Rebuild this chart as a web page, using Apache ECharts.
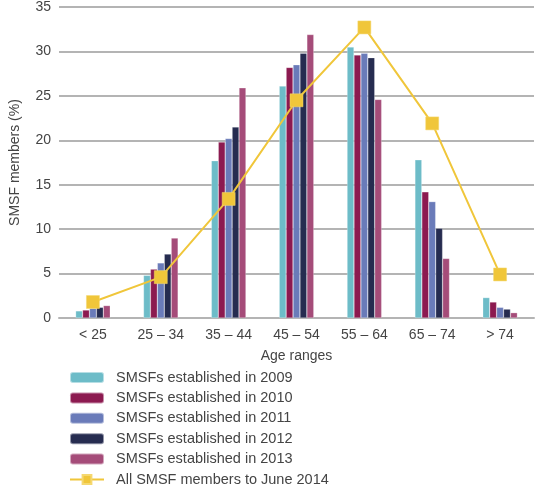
<!DOCTYPE html>
<html><head><meta charset="utf-8">
<script src="https://cdn.jsdelivr.net/npm/echarts@6/dist/echarts.min.js"></script>
<style>html,body{margin:0;padding:0;background:#fff}#c{width:540px;height:491px}</style>
</head><body><div id="c"></div>
<script>
var categories = ['< 25', '25 – 34', '35 – 44', '45 – 54', '55 – 64', '65 – 74', '> 74'];
var yTicks = [0, 5, 10, 15, 20, 25, 30, 35];
var s2009 = [0.8, 4.8, 17.7, 26.1, 30.5, 17.8, 2.3];
var s2010 = [0.9, 5.5, 19.8, 28.2, 29.6, 14.2, 1.8];
var s2011 = [1.1, 6.2, 20.2, 28.5, 29.8, 13.1, 1.2];
var s2012 = [1.2, 7.2, 21.5, 29.8, 29.3, 10.1, 1.0];
var s2013 = [1.4, 9.0, 25.9, 31.9, 24.6, 6.7, 0.6];
var allMembers = [1.8, 4.6, 13.4, 24.5, 32.7, 21.9, 4.9];
var names = ['SMSFs established in 2009','SMSFs established in 2010','SMSFs established in 2011','SMSFs established in 2012','SMSFs established in 2013','All SMSF members to June 2014'];
var colors = ['#6dbcc8','#8c1a50','#6a7bb9','#262c50','#a54c79','#f0c63a'];
var font = 'Liberation Sans, Arial, sans-serif';
var barData = [s2009, s2010, s2011, s2012, s2013];
var series = barData.map(function(d, i){
  return {name: names[i], type: 'bar', data: d, barGap: '0%', barCategoryGap: '49%',
    itemStyle: {color: colors[i], borderColor: 'rgba(255,255,255,0.5)', borderWidth: 0.5}};
});
series.push({name: names[5], type: 'line', data: allMembers, symbol: 'rect', symbolSize: 13,
  lineStyle: {color: colors[5], width: 2}, itemStyle: {color: colors[5], borderColor: '#f5d870', borderWidth: 0.5}, z: 5});
var chart = echarts.init(document.getElementById('c'));
chart.setOption({
  animation: false,
  color: colors,
  grid: {left: 52.6, right: 6, top: 3, bottom: 173, containLabel: false},
  xAxis: {type: 'category', data: categories, name: 'Age ranges', nameLocation: 'middle', nameGap: 31,
    nameTextStyle: {color: '#444', fontSize: 14, fontFamily: font},
    axisLine: {show: true, lineStyle: {color: '#b4b4b4', width: 2}}, axisTick: {show: false},
    axisLabel: {color: '#444', fontSize: 14, fontFamily: font, margin: 10}},
  yAxis: {type: 'value', min: 0, max: 35, interval: 5, name: 'SMSF members (%)', nameLocation: 'middle', nameGap: 37,
    nameTextStyle: {color: '#444', fontSize: 14, fontFamily: font},
    axisLine: {show: false}, axisTick: {show: false},
    axisLabel: {color: '#444', fontSize: 14, fontFamily: font, margin: 8,
      formatter: function(v){ return yTicks.indexOf(v) >= 0 ? String(v) : ''; }},
    splitLine: {lineStyle: {color: '#b4b4b4', width: 2}}},
  legend: {orient: 'vertical', left: 69, top: 370, padding: 0, itemWidth: 34, itemHeight: 11, itemGap: 5.4,
    textStyle: {color: '#444', fontSize: 14.5, fontFamily: font, padding: [0,0,0,7]}, data: names},
  series: series
});
</script></body></html>
